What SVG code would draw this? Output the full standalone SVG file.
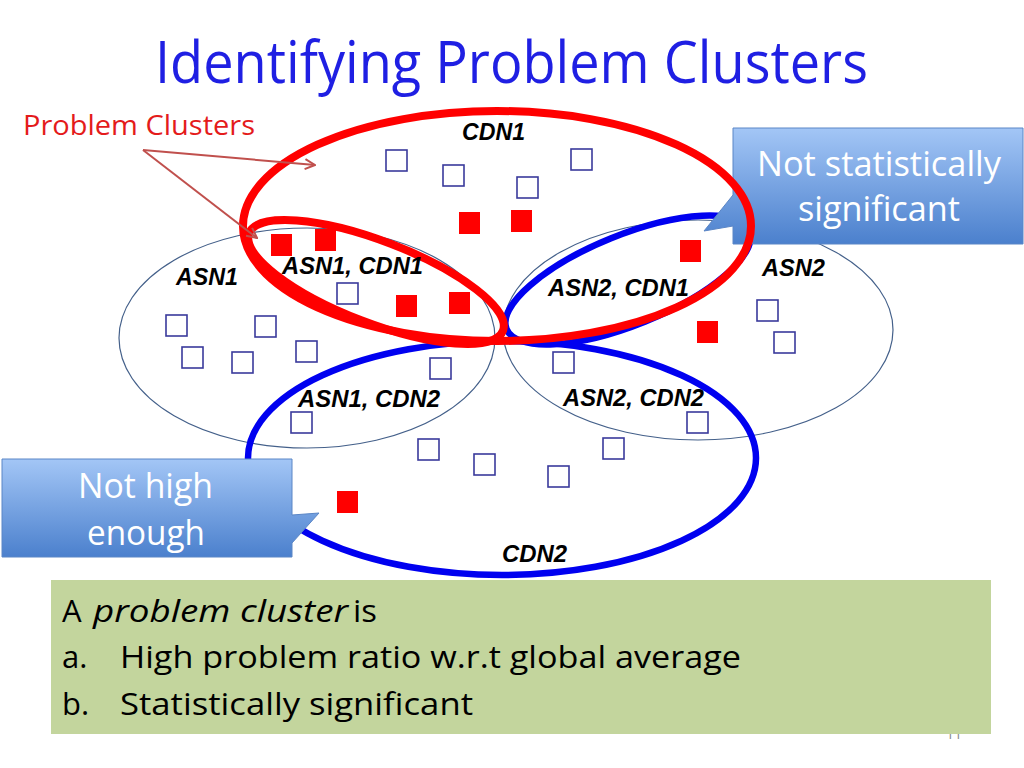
<svg xmlns="http://www.w3.org/2000/svg" width="1024" height="768" viewBox="0 0 1024 768">
<defs>
<style>
.thin{fill:none;stroke:#44608a;stroke-width:1.2}
.redring{fill:none;stroke:#ff0000;stroke-width:8}
.bluering{fill:none;stroke:#0000f0;stroke-width:6.5}
.sq{fill:#ffffff;stroke:#3a3a9c;stroke-width:1.6}
.rsq{fill:#ff0000}
.lbl{font-family:"Liberation Sans",Arial,sans-serif;font-weight:bold;font-style:italic;font-size:24px;fill:#000}
.call{fill:url(#cg);stroke:#5b86c6;stroke-width:1}
.ct{font-family:"Open Sans","Noto Sans","Liberation Sans",sans-serif;font-size:35px;fill:#ffffff}
.body{font-family:"Open Sans","Noto Sans","Liberation Sans",sans-serif;font-size:31px;fill:#000}
.arr{fill:none;stroke:#c0504d;stroke-width:2}
</style>
<linearGradient id="cg" x1="0" y1="0" x2="0" y2="1">
<stop offset="0" stop-color="#a3c6f6"/>
<stop offset="1" stop-color="#4b80cd"/>
</linearGradient>
<marker id="ah" viewBox="0 0 12 12" refX="11" refY="6" markerWidth="12" markerHeight="12" markerUnits="userSpaceOnUse" orient="auto">
<path d="M1,1 L11,6 L1,11" fill="none" stroke="#c0504d" stroke-width="2"/>
</marker>
</defs>
<rect width="1024" height="768" fill="#ffffff"/>
<text x="155" y="83" textLength="713" lengthAdjust="spacingAndGlyphs" style="font-family:'Open Sans','Noto Sans','Liberation Sans',sans-serif;font-size:59px;fill:#1f1fe3">Identifying Problem Clusters</text>
<text x="23" y="135" textLength="232" lengthAdjust="spacingAndGlyphs" style="font-family:'Open Sans','Noto Sans','Liberation Sans',sans-serif;font-size:28px;fill:#e41b1b">Problem Clusters</text>

<g id="asn1"><ellipse class="thin" cx="307" cy="338" rx="188" ry="110"/><text class="lbl" x="176" y="285" textLength="62" lengthAdjust="spacingAndGlyphs">ASN1</text></g>
<g id="asn2"><ellipse class="thin" cx="698" cy="330" rx="195" ry="110"/><text class="lbl" x="762" y="276" textLength="63" lengthAdjust="spacingAndGlyphs">ASN2</text></g>

<g id="squares">
<rect class="sq" x="386" y="150" width="21" height="21"/>
<rect class="sq" x="443" y="165" width="21" height="21"/>
<rect class="sq" x="517" y="177" width="21" height="21"/>
<rect class="sq" x="571" y="149" width="21" height="21"/>
<rect class="sq" x="337" y="283" width="21" height="21"/>
<rect class="sq" x="166" y="315" width="21" height="21"/>
<rect class="sq" x="255" y="316" width="21" height="21"/>
<rect class="sq" x="182" y="347" width="21" height="21"/>
<rect class="sq" x="232" y="352" width="21" height="21"/>
<rect class="sq" x="296" y="341" width="21" height="21"/>
<rect class="sq" x="430" y="358" width="21" height="21"/>
<rect class="sq" x="291" y="412" width="21" height="21"/>
<rect class="sq" x="418" y="439" width="21" height="21"/>
<rect class="sq" x="474" y="454" width="21" height="21"/>
<rect class="sq" x="548" y="466" width="21" height="21"/>
<rect class="sq" x="603" y="438" width="21" height="21"/>
<rect class="sq" x="687" y="412" width="21" height="21"/>
<rect class="sq" x="553" y="352" width="21" height="21"/>
<rect class="sq" x="757" y="300" width="21" height="21"/>
<rect class="sq" x="774" y="332" width="21" height="21"/>
<rect class="rsq" x="459" y="212" width="21" height="22"/>
<rect class="rsq" x="511" y="210" width="21" height="22"/>
<rect class="rsq" x="271" y="234" width="21" height="22"/>
<rect class="rsq" x="315" y="229" width="21" height="22"/>
<rect class="rsq" x="396" y="295" width="21" height="22"/>
<rect class="rsq" x="449" y="292" width="21" height="22"/>
<rect class="rsq" x="680" y="240" width="21" height="22"/>
<rect class="rsq" x="697" y="321" width="21" height="22"/>
<rect class="rsq" x="337" y="491" width="21" height="22"/>
</g>

<g id="cdn2"><ellipse class="bluering" cx="502" cy="458" rx="254" ry="117"/><text class="lbl" x="502" y="562" textLength="65" lengthAdjust="spacingAndGlyphs">CDN2</text></g>
<g id="asn2cdn1"><ellipse class="bluering" cx="628" cy="280" rx="131" ry="45" transform="rotate(-22 628 280)"/><text class="lbl" x="548" y="296" textLength="141" lengthAdjust="spacingAndGlyphs">ASN2, CDN1</text></g>
<g id="asn1cdn2"><text class="lbl" x="298" y="407" textLength="142" lengthAdjust="spacingAndGlyphs">ASN1, CDN2</text></g>
<g id="asn2cdn2"><text class="lbl" x="563" y="406" textLength="141" lengthAdjust="spacingAndGlyphs">ASN2, CDN2</text></g>

<g id="callout-stat">
<path class="call" d="M733,128 H1023 V244 H733 V226 L704,231 L733,195 Z"/>
<text class="ct" x="757" y="176" textLength="244" lengthAdjust="spacingAndGlyphs">Not statistically</text>
<text class="ct" x="798" y="221" textLength="162" lengthAdjust="spacingAndGlyphs">significant</text>
</g>

<g id="cdn1"><ellipse class="redring" cx="497" cy="226" rx="254" ry="115"/><text class="lbl" x="462" y="140" textLength="63" lengthAdjust="spacingAndGlyphs">CDN1</text></g>
<g id="asn1cdn1"><ellipse class="redring" cx="376" cy="282" rx="136" ry="41" transform="rotate(21 376 282)"/><text class="lbl" x="282" y="274" textLength="141" lengthAdjust="spacingAndGlyphs">ASN1, CDN1</text></g>

<g id="callout-high">
<path class="call" d="M2,459 H292 V515 L319,513 L292,543 V557 H2 Z"/>
<text class="ct" x="78" y="498" textLength="135" lengthAdjust="spacingAndGlyphs">Not high</text>
<text class="ct" x="87" y="545" textLength="118" lengthAdjust="spacingAndGlyphs">enough</text>
</g>

<g id="connectors">
<line class="arr" x1="143" y1="150" x2="315" y2="165" marker-end="url(#ah)"/>
<line class="arr" x1="143" y1="150" x2="257" y2="238" marker-end="url(#ah)"/>
</g>

<text x="954" y="739" text-anchor="middle" style="font-family:'Open Sans','Liberation Sans',sans-serif;font-size:14px;fill:#8a8a8a">11</text>
<g id="definition">
<rect x="51" y="580" width="940" height="154" fill="#c3d59d"/>
<text class="body" x="62" y="622">A</text>
<text class="body" x="93" y="622" textLength="255" lengthAdjust="spacingAndGlyphs" font-style="italic">problem cluster</text>
<text class="body" x="353" y="622" textLength="24" lengthAdjust="spacingAndGlyphs">is</text>
<text class="body" x="62" y="668">a.</text>
<text class="body" x="120" y="668" textLength="621" lengthAdjust="spacingAndGlyphs">High problem ratio w.r.t global average</text>
<text class="body" x="62" y="715">b.</text>
<text class="body" x="120" y="715" textLength="353" lengthAdjust="spacingAndGlyphs">Statistically significant</text>
</g>
</svg>
